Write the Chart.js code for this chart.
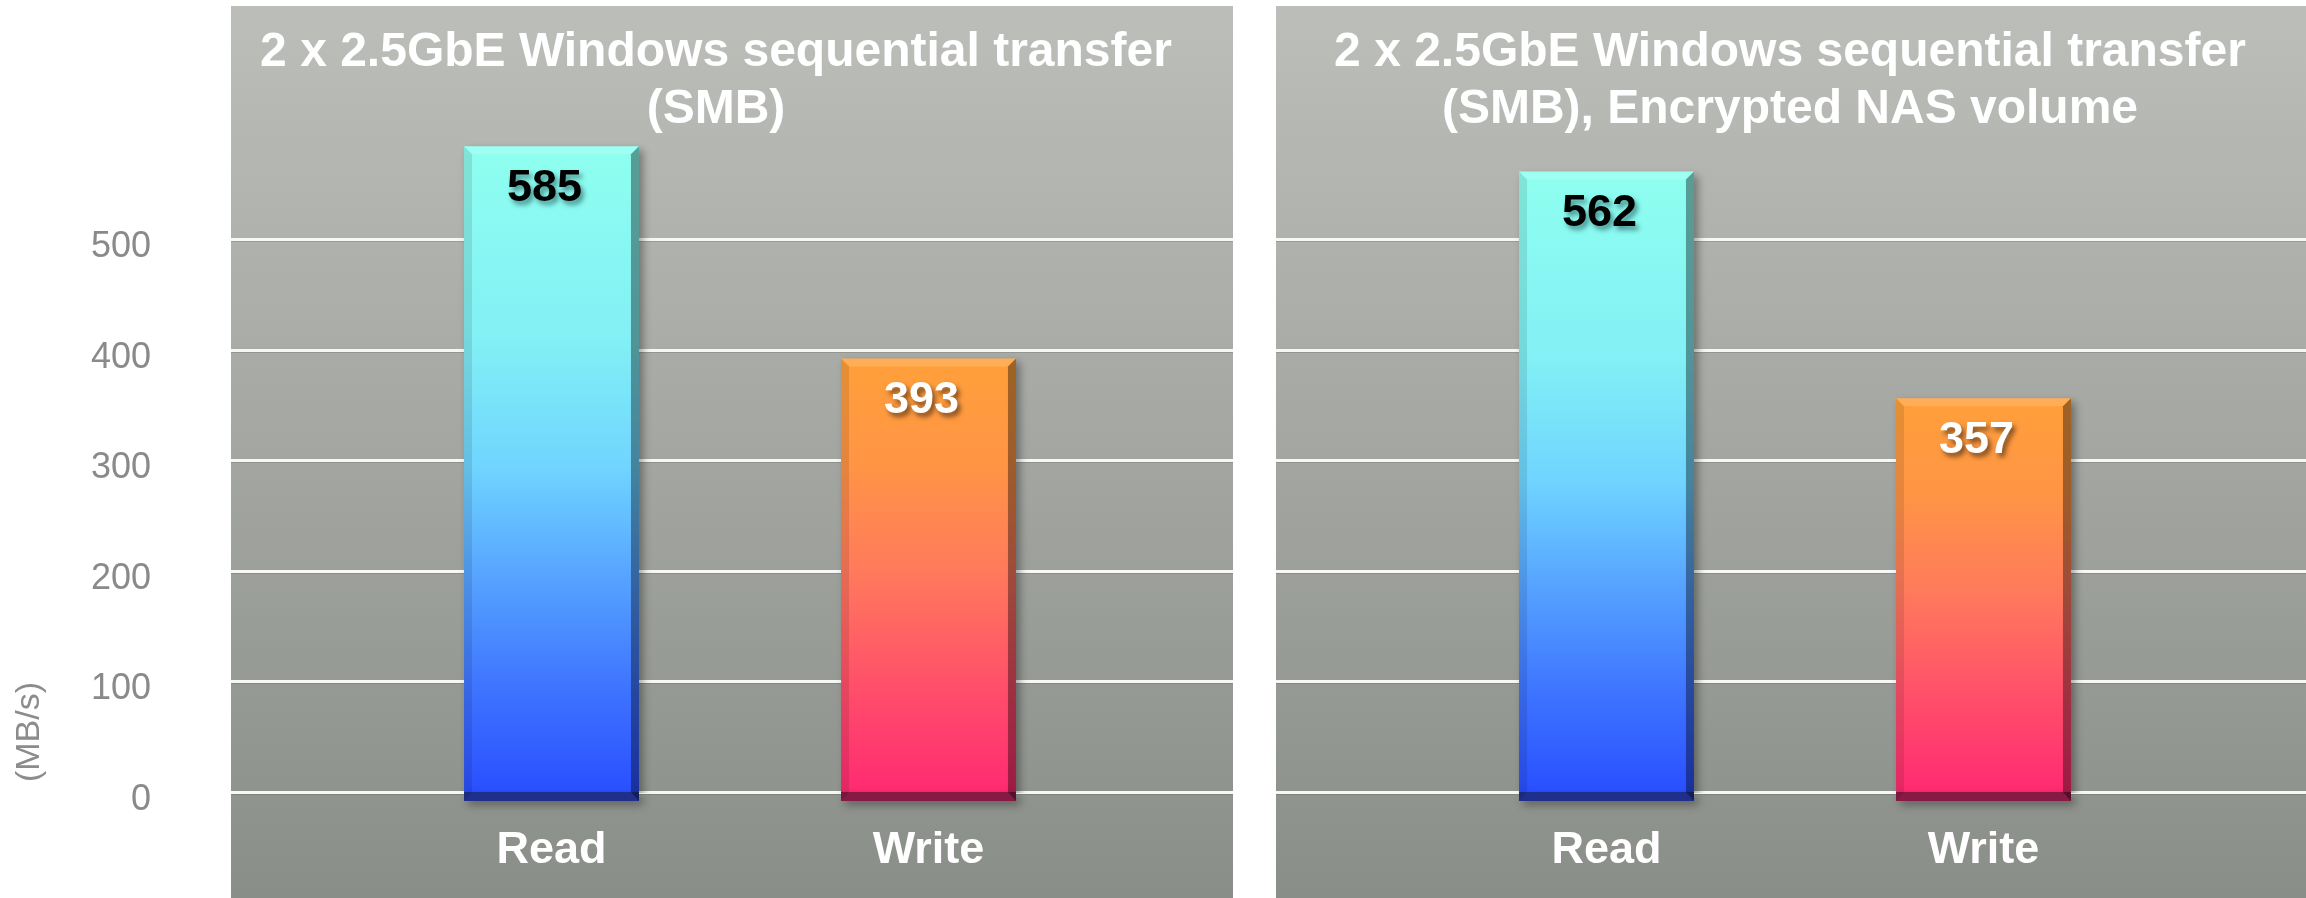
<!DOCTYPE html>
<html>
<head>
<meta charset="utf-8">
<script src="https://cdn.jsdelivr.net/npm/chart.js@4"></script>
<style>
    body { margin: 0; background: #fff; width: 2306px; height: 898px; overflow: hidden; }
    .panel { position: absolute; top: 0; height: 898px; }
</style>
</head>
<body>
<div class="panel" style="left:0;width:1233px"><canvas id="leftChart" width="1233" height="898"></canvas></div>
<div class="panel" style="left:1276px;width:1030px"><canvas id="rightChart" width="1030" height="898"></canvas></div>
<script>
// 数据
const categories = ['Read', 'Write'];
const plainValues = [585, 393];
const encryptedValues = [562, 357];
const yTickValues = [0, 100, 200, 300, 400, 500];
const leftTitle = ['2 x 2.5GbE Windows sequential transfer', '(SMB)'];
const rightTitle = ['2 x 2.5GbE Windows sequential transfer', '(SMB), Encrypted NAS volume'];
const yAxisTitle = '(MB/s)';

const FONT = '"Liberation Sans", Arial, sans-serif';

// 每个柱子的渐变色
const readStops = [[0, '#8ffff0'], [0.3, '#82f0f5'], [0.5, '#6fd4ff'], [0.66, '#57a5ff'], [0.83, '#3f76ff'], [1, '#2a4fff']];
const writeStops = [[0, '#ffa03a'], [0.24, '#ff9545'], [0.49, '#ff7a5c'], [0.75, '#ff506a'], [1, '#ff2a72']];
const bottomBevelColors = ['#1f2f8c', '#861a44'];
const labelColors = ['#000000', '#ffffff'];

function barGradient(context) {
    const chart = context.chart;
    const y = chart.scales.y;
    const stops = context.dataIndex === 0 ? readStops : writeStops;
    if (!chart.chartArea || !y) return stops[0][1];
    const top = y.getPixelForValue(context.raw);
    const bottom = y.getPixelForValue(0);
    const g = chart.ctx.createLinearGradient(0, top, 0, bottom);
    stops.forEach(s => g.addColorStop(s[0], s[1]));
    return g;
}

const panelPlugin = {
    id: 'panel',
    beforeDraw(chart, args, opts) {
        const ctx = chart.ctx;
        const y = chart.scales.y;
        ctx.save();
        // 灰色背景
        const bg = ctx.createLinearGradient(0, opts.top, 0, chart.height);
        bg.addColorStop(0, '#bcbeba');
        bg.addColorStop(1, '#8a8e88');
        ctx.fillStyle = bg;
        ctx.fillRect(opts.left, opts.top, opts.right - opts.left, chart.height - opts.top);

        // 网格线铺满整个面板
        y.ticks.forEach(t => {
            const py = Math.round(y.getPixelForValue(t.value));
            ctx.fillStyle = 'rgba(0,0,0,0.12)';
            ctx.fillRect(opts.left, py + 1, opts.right - opts.left, 1);
            ctx.fillStyle = '#f7f7f7';
            ctx.fillRect(opts.left, py - 2, opts.right - opts.left, 3);
        });

        // 标题
        ctx.font = 'bold 48px ' + FONT;
        ctx.fillStyle = '#ffffff';
        ctx.textAlign = 'center';
        ctx.textBaseline = 'alphabetic';
        ctx.fillText(opts.title[0], opts.titleX, 66);
        ctx.fillText(opts.title[1], opts.titleX, 123);

        // 纵轴单位
        if (opts.unit) {
            ctx.translate(30, 732);
            ctx.rotate(-Math.PI / 2);
            ctx.font = '34px ' + FONT;
            ctx.fillStyle = '#8c8c8c';
            ctx.textBaseline = 'middle';
            ctx.fillText(opts.unit, 0, 0);
        }
        ctx.restore();
    },
    beforeDatasetsDraw(chart) {
        const ctx = chart.ctx;
        ctx.save();
        ctx.shadowColor = 'rgba(0,0,0,0.35)';
        ctx.shadowBlur = 8;
        ctx.shadowOffsetX = 4;
        ctx.shadowOffsetY = 4;
    },
    afterDatasetsDraw(chart) {
        const ctx = chart.ctx;
        ctx.restore();
        const meta = chart.getDatasetMeta(0);
        const data = chart.data.datasets[0].data;
        meta.data.forEach((bar, i) => {
            const left = bar.x - bar.width / 2;
            const right = bar.x + bar.width / 2;
            const top = bar.y;
            const base = bar.base;
            const b = 8;
            ctx.save();
            // 底部斜面（在零线下方，带阴影）
            ctx.shadowColor = 'rgba(0,0,0,0.35)';
            ctx.shadowBlur = 8;
            ctx.shadowOffsetX = 4;
            ctx.shadowOffsetY = 4;
            ctx.fillStyle = bottomBevelColors[i];
            ctx.beginPath();
            ctx.moveTo(left, base - 1);
            ctx.lineTo(right, base - 1);
            ctx.lineTo(right, base + b);
            ctx.lineTo(left, base + b);
            ctx.closePath();
            ctx.fill();
            ctx.restore();
            ctx.save();
            // 右侧斜面
            ctx.fillStyle = 'rgba(0,0,0,0.38)';
            ctx.beginPath();
            ctx.moveTo(right, top);
            ctx.lineTo(right, base + b);
            ctx.lineTo(right - b, base - 1);
            ctx.lineTo(right - b, top + b);
            ctx.closePath();
            ctx.fill();
            // 左侧斜面
            ctx.fillStyle = 'rgba(0,0,0,0.1)';
            ctx.beginPath();
            ctx.moveTo(left, top);
            ctx.lineTo(left + b, top + b);
            ctx.lineTo(left + b, base - 1);
            ctx.lineTo(left, base + b);
            ctx.closePath();
            ctx.fill();
            // 顶部斜面
            ctx.fillStyle = 'rgba(255,255,255,0.15)';
            ctx.beginPath();
            ctx.moveTo(left, top);
            ctx.lineTo(right, top);
            ctx.lineTo(right - b, top + b);
            ctx.lineTo(left + b, top + b);
            ctx.closePath();
            ctx.fill();

            // 数值标签
            ctx.font = 'bold 45px ' + FONT;
            ctx.textAlign = 'center';
            ctx.textBaseline = 'middle';
            if (i === 0) {
                ctx.shadowColor = 'rgba(30,80,80,0.6)';
            } else {
                ctx.shadowColor = 'rgba(0,0,0,0.5)';
            }
            ctx.shadowBlur = 5;
            ctx.shadowOffsetX = 3;
            ctx.shadowOffsetY = 4;
            ctx.fillStyle = labelColors[i];
            ctx.fillText(String(data[i]), bar.x - 7, top + 42);
            ctx.restore();
        });
    }
};

function makeChart(id, values, title, showAxis, padding, panel) {
    const ctx = document.getElementById(id).getContext('2d');
    return new Chart(ctx, {
        type: 'bar',
        data: {
            labels: categories,
            datasets: [{
                data: values,
                backgroundColor: barGradient,
                borderWidth: 0,
                categoryPercentage: 1,
                barPercentage: 0.464
            }]
        },
        options: {
            responsive: false,
            animation: false,
            layout: { padding: padding },
            plugins: {
                legend: { display: false },
                tooltip: { enabled: false },
                panel: Object.assign({ title: title }, panel)
            },
            scales: {
                x: {
                    grid: { display: false },
                    border: { display: false },
                    ticks: {
                        color: '#ffffff',
                        font: { family: FONT, size: 45, weight: 'bold' },
                        padding: 23
                    },
                    afterFit(scale) {
                        scale.height = 105;
                        scale.paddingLeft = 0;
                        scale.paddingRight = 0;
                    }
                },
                y: {
                    display: showAxis,
                    min: 0,
                    max: 700,
                    grid: { display: false },
                    border: { display: false },
                    afterBuildTicks(scale) {
                        scale.ticks = yTickValues.map(v => ({ value: v }));
                    },
                    afterFit(scale) {
                        if (!showAxis) return;
                        // 固定轴宽，避免刻度间距撑大上下留白
                        scale.width = 363;
                        scale.paddingTop = 0;
                        scale.paddingBottom = 0;
                    },
                    ticks: {
                        color: '#8a8a8a',
                        font: { family: FONT, size: 36 },
                        padding: 204,
                        labelOffset: 7
                    }
                }
            }
        },
        plugins: [panelPlugin]
    });
}

onload = () => {
    makeChart('leftChart', plainValues, leftTitle, true,
        { top: 19, right: 116, left: 0, bottom: 0 },
        { left: 231, right: 1233, top: 6, titleX: 716, unit: yAxisTitle });
    makeChart('rightChart', encryptedValues, rightTitle, false,
        { top: 19, right: 134, left: 142, bottom: 0 },
        { left: 0, right: 1030, top: 6, titleX: 514 });
}
</script>
</body>
</html>
